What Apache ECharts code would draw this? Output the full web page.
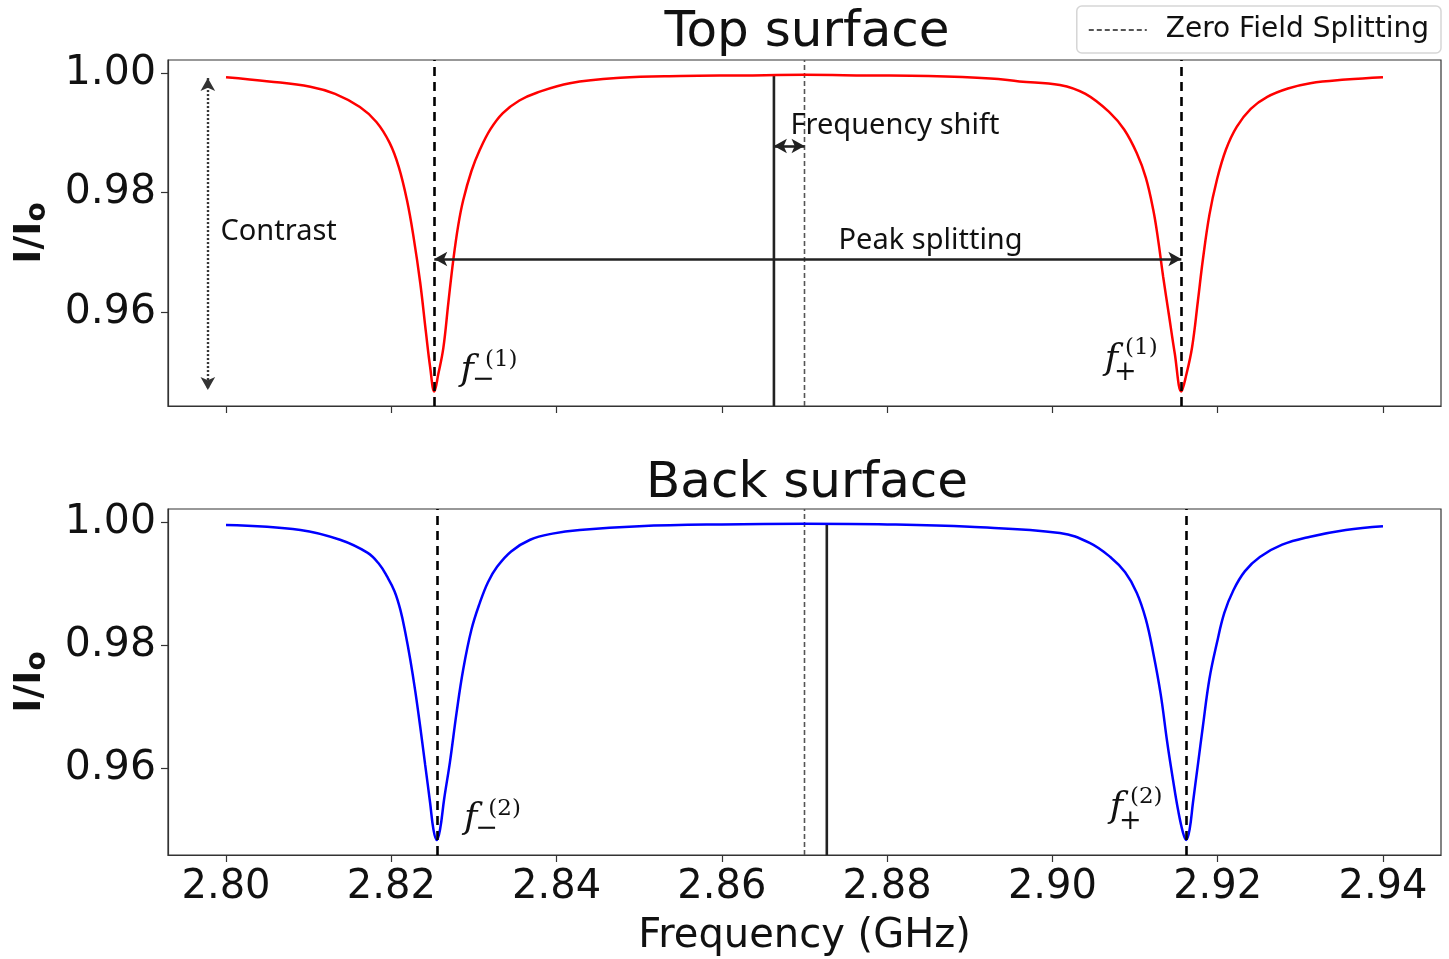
<!DOCTYPE html>
<html>
<head>
<meta charset="utf-8">
<script src="https://cdn.jsdelivr.net/npm/echarts@6/dist/echarts.min.js"></script>
<style>
html,body{margin:0;padding:0;background:#fff;}
#chart{width:1449px;height:959px;}
</style>
</head>
<body>
<div id="chart"></div>
<script>
// ---------- data ----------
const topFreq = [2.8000, 2.8052, 2.8102, 2.8132, 2.8162, 2.8182, 2.8198, 2.8209, 2.8219, 2.8227, 2.8235, 2.8242, 2.8247, 2.8252,
  2.8257, 2.8263, 2.8269, 2.8275, 2.8281, 2.8287, 2.8297, 2.8307, 2.8320, 2.8335, 2.8355, 2.8376, 2.8416, 2.8477,
  2.855, 2.8625, 2.870, 2.8775, 2.885, 2.8925, 2.8960, 2.9009, 2.9040, 2.9070, 2.9087, 2.9102, 2.9113, 2.9122, 2.9128,
  2.9134, 2.9141, 2.9148, 2.9156, 2.9162, 2.9169, 2.9176, 2.9182, 2.9190, 2.9199, 2.9210, 2.9223, 2.9240, 2.9260,
  2.9285, 2.9312, 2.9355, 2.9400];
const topVal = [0.9993, 0.9986, 0.9977, 0.9965, 0.9943, 0.9918, 0.9883, 0.9843, 0.9787, 0.9725, 0.9649, 0.9565, 0.9508, 0.9467,
  0.9497, 0.9540, 0.9615, 0.9687, 0.9745, 0.9787, 0.9836, 0.9871, 0.9906, 0.9933, 0.9954, 0.9967, 0.9983, 0.9992,
  0.9995, 0.9996, 0.9997, 0.9996, 0.9995, 0.9991, 0.9986, 0.9980, 0.9965, 0.9933, 0.9905, 0.9866, 0.9825, 0.9771, 0.9720,
  0.9659, 0.9595, 0.9531, 0.9467, 0.9495, 0.9541, 0.9618, 0.9687, 0.9763, 0.9821, 0.9872, 0.9910, 0.9940, 0.9960,
  0.9974, 0.9983, 0.9989, 0.9993];

const backFreq = [2.800, 2.8090, 2.8138, 2.8171, 2.8185, 2.8195, 2.8204, 2.8211, 2.8217, 2.8223, 2.8229, 2.8235, 2.8241, 2.8247,
  2.8251, 2.8255, 2.8259, 2.8264, 2.8271, 2.8279, 2.8287, 2.8297, 2.8307, 2.8317, 2.8328, 2.8345, 2.8368, 2.8395, 2.8428,
  2.850, 2.860, 2.870, 2.880, 2.890, 2.9009, 2.9045, 2.9070, 2.9088, 2.9102, 2.9113, 2.9122, 2.9131, 2.9139, 2.9146,
  2.9152, 2.9158, 2.9162, 2.9166, 2.9170, 2.9176, 2.9182, 2.9190, 2.9199, 2.9208, 2.9219, 2.9233, 2.9251, 2.9278,
  2.9312, 2.9355, 2.9400];
const backVal = [0.9995, 0.9987, 0.9971, 0.9950, 0.9932, 0.9911, 0.9887, 0.9857, 0.9820, 0.9776, 0.9725, 0.9667, 0.9605, 0.9543,
  0.9500, 0.9483, 0.9500, 0.9550, 0.9610, 0.9690, 0.9760, 0.9825, 0.9868, 0.9902, 0.9927, 0.9952, 0.9971, 0.9981, 0.9987,
  0.9993, 0.9996, 0.9997, 0.9996, 0.9992, 0.9982, 0.9966, 0.9943, 0.9918, 0.9885, 0.9842, 0.9787, 0.9720, 0.9641, 0.9580,
  0.9532, 0.9495, 0.9483, 0.9500, 0.9543, 0.9605, 0.9667, 0.9745, 0.9803, 0.9852, 0.9889, 0.9920, 0.9943, 0.9963,
  0.9976, 0.9987, 0.9993];

// resonance / reference frequencies (GHz)
const topDips = [2.8252, 2.9156];
const backDips = [2.8256, 2.9162];
const topMin = 0.9467, backMin = 0.9483;
const zfs = 2.870;
const topCenter = 2.8663, topCenterTop = 0.9996;
const backCenter = 2.8727, backCenterTop = 0.9997;

// axis ranges and ticks
const xRange = [2.79298, 2.94702];
const topYRange = [0.94427, 1.00218];
const backYRange = [0.94585, 1.0021];
const xTicks = [2.80, 2.82, 2.84, 2.86, 2.88, 2.90, 2.92, 2.94];
const yTicks = [0.96, 0.98, 1.00];

// annotation anchors (data units)
const contrastArrow = {x: 2.7978, y1: 0.99916, y2: 0.94695};
const contrastText = [2.79927, 0.97339];
const shiftArrowY = 0.98778;
const shiftText = [2.86825, 0.99113];
const splitArrowY = 0.96887;
const splitText = [2.87406, 0.97188];

// ---------- chart ----------
const chart = echarts.init(document.getElementById('chart'), null, {renderer: 'canvas'});
const FONT = 'DejaVu Sans';
const TXT = '#111';

function pairs(xs, ys) { return xs.map((x, i) => [x, ys[i]]); }

function xAxisCfg(gridIndex, showLabels) {
  return {
    type: 'value', gridIndex, min: xRange[0], max: xRange[1],
    axisLine: {show: true, lineStyle: {color: '#333', width: 1.2}},
    axisTick: {show: true, inside: false, length: 7, customValues: xTicks, lineStyle: {color: '#333', width: 1.2}},
    axisLabel: {show: showLabels, customValues: xTicks, formatter: v => v.toFixed(2), fontSize: 40, fontFamily: FONT, color: TXT, margin: 13},
    splitLine: {show: false},
    name: showLabels ? 'Frequency (GHz)' : '',
    nameLocation: 'middle', nameGap: 62,
    nameTextStyle: {fontSize: 40, fontFamily: FONT, color: TXT}
  };
}
function yAxisCfg(gridIndex, range) {
  return {
    type: 'value', gridIndex, min: range[0], max: range[1],
    axisLine: {show: true, lineStyle: {color: '#333', width: 1.2}},
    axisTick: {show: true, inside: false, length: 7, customValues: yTicks, lineStyle: {color: '#333', width: 1.2}},
    axisLabel: {customValues: yTicks, formatter: v => v.toFixed(2), fontSize: 41, fontFamily: FONT, color: TXT, margin: 12},
    splitLine: {show: false},
    name: '{a|I/I}{b|o}',
    nameLocation: 'middle', nameGap: 116, nameRotate: 90,
    nameTextStyle: {
      rich: {
        a: {fontSize: 38, fontWeight: 'bold', fontFamily: FONT, color: TXT},
        b: {fontSize: 28, fontWeight: 'bold', fontFamily: FONT, color: TXT, padding: [16, 0, 0, 0]}
      }
    }
  };
}

const invisible = {color: 'rgba(0,0,0,0)'};
function textPoint(coord, text, pos, offset, style) {
  return {
    coord, symbol: 'circle', symbolSize: 1, itemStyle: invisible,
    label: Object.assign({show: true, position: pos, distance: 0, offset: offset || [0, 0], formatter: text}, style)
  };
}
const annStyle = {fontSize: 29, fontFamily: 'Noto Sans', color: TXT};
const fStyle = {fontSize: 36, fontFamily: 'DejaVu Serif', fontStyle: 'italic', color: TXT};
const supStyle = {fontSize: 23, fontFamily: 'DejaVu Serif', color: TXT};
const signStyle = {fontSize: 27, fontFamily: 'DejaVu Serif', color: TXT};

function fLabels(dipX, dipY, side, idx, sub) {
  // offsets in pixels relative to the dip point
  const o = side === 'right'
    ? {f: [33, -21], s: [49, -11], p: [67, -31]}
    : {f: [-70, -32], s: [-56, -18], p: [-40, -43]};
  return [
    textPoint([dipX, dipY], 'f', 'inside', o.f, fStyle),
    textPoint([dipX, dipY], sub, 'inside', o.s, signStyle),
    textPoint([dipX, dipY], '(' + idx + ')', 'inside', o.p, supStyle)
  ];
}

const dipLineStyle = {color: '#000', width: 2.6, type: [9, 6]};
const arrowLine = (a, b, style) => [
  {coord: a, symbol: 'arrow', lineStyle: style},
  {coord: b, symbol: 'arrow'}
];
const arrowStyle = {color: '#222', width: 2.6, type: 'solid'};
const zfsStyle = {color: '#555', width: 1.6, type: [5, 3]};

const option = {
  animation: false,
  backgroundColor: '#fff',
  textStyle: {fontFamily: FONT},
  title: [
    {text: 'Top surface', left: 802, top: 3, textAlign: 'center',
     textStyle: {fontSize: 50, fontWeight: 'normal', fontFamily: FONT, color: TXT}},
    {text: 'Back surface', left: 802, top: 454, textAlign: 'center',
     textStyle: {fontSize: 50, fontWeight: 'normal', fontFamily: FONT, color: TXT}}
  ],
  legend: {
    data: ['Zero Field Splitting'],
    right: 8, top: 6,
    itemWidth: 58, itemHeight: 14, itemGap: 10,
    padding: [10, 12, 9, 11],
    itemStyle: {opacity: 0},
    backgroundColor: '#fff', borderColor: '#d6d6d6', borderWidth: 1.5, borderRadius: 5,
    textStyle: {fontSize: 28, fontFamily: FONT, color: TXT, padding: [0, 0, 0, 14]},
    selectedMode: false
  },
  grid: [
    {left: 168, top: 60, width: 1273, height: 346, show: true, borderColor: '#333', borderWidth: 1.2, backgroundColor: '#fff'},
    {left: 168, top: 509, width: 1273, height: 346, show: true, borderColor: '#333', borderWidth: 1.2, backgroundColor: '#fff'}
  ],
  xAxis: [xAxisCfg(0, false), xAxisCfg(1, true)],
  yAxis: [yAxisCfg(0, topYRange), yAxisCfg(1, backYRange)],
  series: [
    {
      name: 'Zero Field Splitting', type: 'line', xAxisIndex: 0, yAxisIndex: 0,
      data: [[zfs, topYRange[0]], [zfs, topYRange[1]]],
      showSymbol: false, symbol: 'none', silent: true,
      lineStyle: zfsStyle, itemStyle: {color: '#555'}, z: 1
    },
    {
      name: 'Zero Field Splitting', type: 'line', xAxisIndex: 1, yAxisIndex: 1,
      data: [[zfs, backYRange[0]], [zfs, backYRange[1]]],
      showSymbol: false, symbol: 'none', silent: true,
      lineStyle: zfsStyle, itemStyle: {color: '#555'}, z: 1
    },
    {
      name: 'topCenter', type: 'line', xAxisIndex: 0, yAxisIndex: 0,
      data: [[topCenter, topCenterTop], [topCenter, topYRange[0]]],
      showSymbol: false, symbol: 'none', silent: true,
      lineStyle: {color: '#222', width: 2.6}, z: 2
    },
    {
      name: 'backCenter', type: 'line', xAxisIndex: 1, yAxisIndex: 1,
      data: [[backCenter, backCenterTop], [backCenter, backYRange[0]]],
      showSymbol: false, symbol: 'none', silent: true,
      lineStyle: {color: '#222', width: 2.6}, z: 2
    },
    {
      name: 'top', type: 'line', xAxisIndex: 0, yAxisIndex: 0,
      data: pairs(topFreq, topVal),
      smooth: 0.4, showSymbol: false, symbol: 'none', silent: true,
      lineStyle: {color: '#ff0000', width: 2.5}, z: 3,
      markLine: {
        silent: true, precision: 6, symbol: 'none', symbolSize: [11, 13], label: {show: false},
        data: [
          {xAxis: topDips[0], lineStyle: dipLineStyle},
          {xAxis: topDips[1], lineStyle: dipLineStyle},
          arrowLine([topDips[0], splitArrowY], [topDips[1], splitArrowY], arrowStyle),
          arrowLine([topCenter, shiftArrowY], [zfs, shiftArrowY], arrowStyle),
          arrowLine([contrastArrow.x, contrastArrow.y1], [contrastArrow.x, contrastArrow.y2],
                    {color: '#333', width: 2.4, type: [2, 2]})
        ]
      },
      markPoint: {
        silent: true, precision: 6,
        data: [
          textPoint(contrastText, 'Contrast', 'right', [0, 0], annStyle),
          textPoint(shiftText, 'Frequency shift', 'right', [0, 0], annStyle),
          textPoint(splitText, 'Peak splitting', 'right', [0, 0], annStyle)
        ].concat(fLabels(topDips[0], topMin, 'right', 1, '\u2212'))
         .concat(fLabels(topDips[1], topMin, 'left', 1, '+'))
      }
    },
    {
      name: 'back', type: 'line', xAxisIndex: 1, yAxisIndex: 1,
      data: pairs(backFreq, backVal),
      smooth: 0.4, showSymbol: false, symbol: 'none', silent: true,
      lineStyle: {color: '#0000ff', width: 2.5}, z: 3,
      markLine: {
        silent: true, precision: 6, symbol: 'none', label: {show: false},
        data: [
          {xAxis: backDips[0], lineStyle: dipLineStyle},
          {xAxis: backDips[1], lineStyle: dipLineStyle}
        ]
      },
      markPoint: {
        silent: true, precision: 6,
        data: [].concat(fLabels(backDips[0], backMin, 'right', 2, '\u2212'))
                .concat(fLabels(backDips[1], backMin, 'left', 2, '+'))
      }
    }
  ]
};
chart.setOption(option);
</script>
</body>
</html>
